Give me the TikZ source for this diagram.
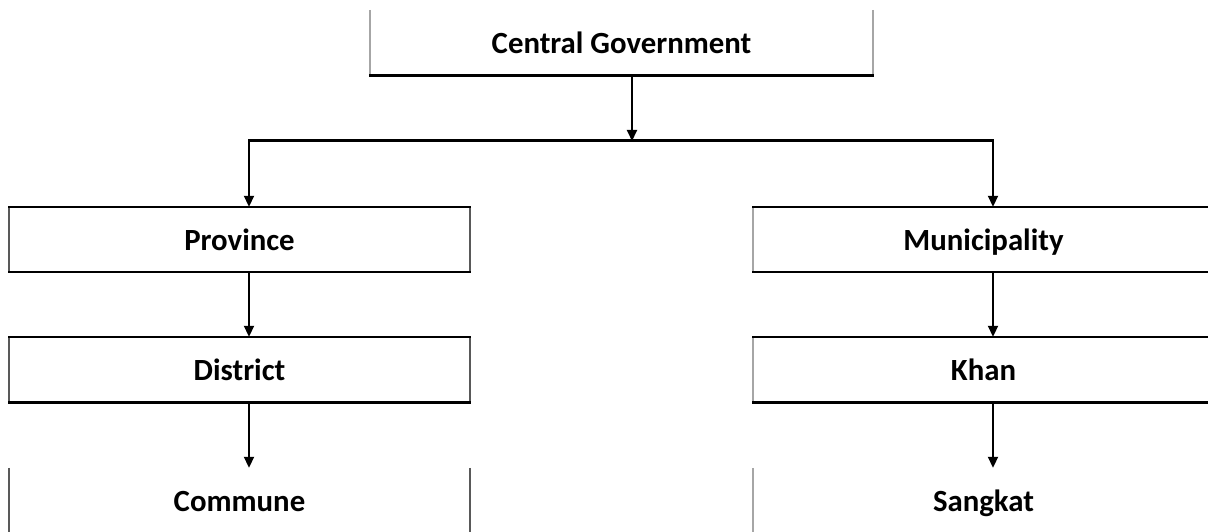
\documentclass[tikz,border=0pt]{standalone}
\usepackage{fontspec}
\setmainfont{Carlito}
\usetikzlibrary{arrows.meta}
\definecolor{lightside}{HTML}{A6A6A6}
\definecolor{darkside}{HTML}{595959}
\tikzset{
  unitbox/.style={rectangle, inner sep=0pt, minimum width=461pt, minimum height=65pt,
    font=\fontsize{30.8}{36}\selectfont\bfseries, text height=22.4pt, text depth=0pt},
  hedge/.style={draw=black, line width=1.8pt},
  thickedge/.style={draw=black, line width=2.8pt},
  lside/.style={draw=lightside, line width=1.6pt},
  dside/.style={draw=darkside, line width=1.7pt},
  link/.style={draw=black, line width=1.9pt, -{Triangle[width=10pt,length=11pt]}},
  bus/.style={draw=black, line width=3pt}
}
\begin{document}
\begin{tikzpicture}[x=1pt,y=-1pt]
\useasboundingbox (0,0) rectangle (1208,532);
\clip (0,0) rectangle (1208,532);
% nodes
\node[unitbox, minimum width=503pt] (cg) at (621.5,42.5) {Central Government};
\node[unitbox] (prov) at (239.5,239.5) {Province};
\node[unitbox] (dist) at (239.5,369.5) {District};
\node[unitbox] (comm) at (239.5,500.5) {Commune};
\node[unitbox] (muni) at (983.5,239.5) {Municipality};
\node[unitbox] (khan) at (983.5,369.5) {Khan};
\node[unitbox] (sang) at (983.5,500.5) {Sangkat};
% box edges
\path[lside] (cg.north west) -- (cg.south west);
\path[lside] (cg.north east) -- (cg.south east);
\path[thickedge] ([xshift=-0.8pt]cg.south west) -- ([xshift=0.8pt]cg.south east);

\path[dside] (prov.north west) -- (prov.south west);
\path[dside] (prov.north east) -- (prov.south east);
\path[hedge] ([xshift=-0.8pt]prov.north west) -- ([xshift=0.8pt]prov.north east);
\path[hedge] ([xshift=-0.8pt]prov.south west) -- ([xshift=0.8pt]prov.south east);

\path[dside] (dist.north west) -- (dist.south west);
\path[dside] (dist.north east) -- (dist.south east);
\path[hedge] ([xshift=-0.8pt]dist.north west) -- ([xshift=0.8pt]dist.north east);
\path[thickedge] ([xshift=-0.8pt]dist.south west) -- ([xshift=0.8pt]dist.south east);

\path[dside] (comm.north west) -- (comm.south west);
\path[dside] (comm.north east) -- (comm.south east);

\path[lside] (muni.north west) -- (muni.south west);
\path[hedge] ([xshift=-0.8pt]muni.north west) -- (muni.north east);
\path[hedge] ([xshift=-0.8pt]muni.south west) -- (muni.south east);

\path[lside] (khan.north west) -- (khan.south west);
\path[hedge] ([xshift=-0.8pt]khan.north west) -- (khan.north east);
\path[thickedge] ([xshift=-0.8pt]khan.south west) -- (khan.south east);

\path[lside] (sang.north west) -- (sang.south west);
% connectors
\coordinate (busM) at (632,141);
\coordinate (busL) at (249,141);
\coordinate (busR) at (993,141);
\path[bus] ([xshift=-0.9pt]busL) -- ([xshift=0.9pt]busR);
\path[link] (cg.south -| busM) -- (busM);
\path[link] (busL) -- (prov.north -| busL);
\path[link] (busR) -- (muni.north -| busR);
\path[link] (prov.south -| busL) -- (dist.north -| busL);
\path[link] (dist.south -| busL) -- (comm.north -| busL);
\path[link] (muni.south -| busR) -- (khan.north -| busR);
\path[link] (khan.south -| busR) -- (sang.north -| busR);
\end{tikzpicture}
\end{document}
